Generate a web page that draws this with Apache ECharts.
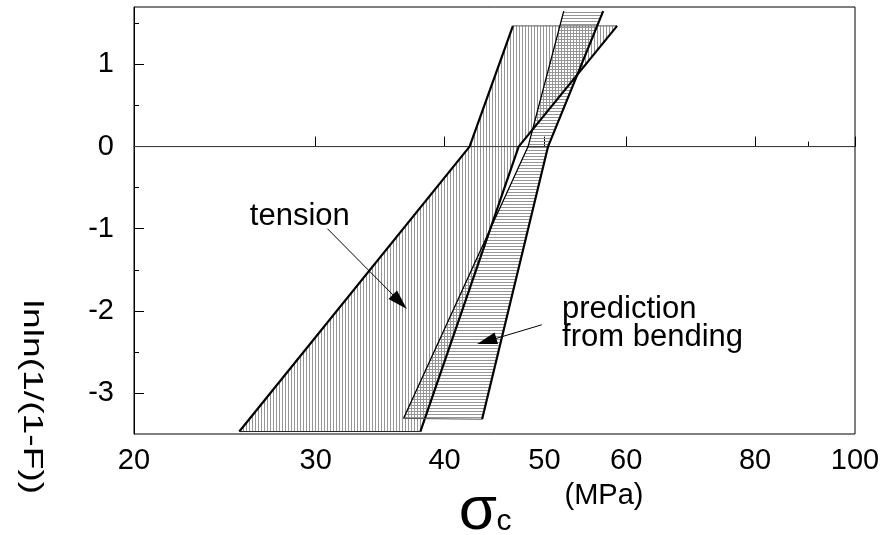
<!DOCTYPE html>
<html><head><meta charset="utf-8">
<script src="https://cdn.jsdelivr.net/npm/echarts@6/dist/echarts.min.js"></script>
<style>html,body{margin:0;padding:0;background:#fff}#c{width:884px;height:535px}</style>
</head><body><div id="c"></div>
<script>
// ---- data ----
const xTickLabels = [20, 30, 40, 50, 60, 80, 100];
const xMajorTicks = [20, 30, 40, 50, 60, 80, 100];
const xMinorTicks = [90];
const yTickLabels = [-3, -2, -1, 0, 1];
const yMinorTicks = [-2.5, -1.5, -0.5, 0.5, 1.5];

// tension band (vertical hatch) : left edge up, top, right edge down
const tensionX = [25.3, 42.3, 46.6, 58.8, 47.2, 37.9];
const tensionY = [-3.47, 0, 1.47, 1.47, 0, -3.47];
// prediction from bending band (horizontal hatch)
const bendingX = [36.5, 48.2, 52.2, 57.0, 50.4, 43.5];
const bendingY = [-3.31, 0, 1.65, 1.65, 0, -3.32];

const zeroLineX = [20, 100];
const zeroLineY = [0, 0];

const arrowTensionFrom = [30.8, -1.00];
const arrowTensionTo = [36.2, -1.89];
const arrowBendingFrom = [49.7, -2.17];
const arrowBendingTo = [43.95, -2.37];

// ---- helpers ----
function pts(xs, ys, idx) { return idx.map(i => [xs[i], ys[i]]); }
function hatch(vertical) {
  const c = document.createElement('canvas');
  c.width = 3; c.height = 3;
  const g = c.getContext('2d');
  g.fillStyle = '#959595';
  if (vertical) g.fillRect(0, 0, 1, 3); else g.fillRect(0, 0, 3, 1);
  return { type: 'pattern', image: c, repeat: 'repeat' };
}
function polySeries(xs, ys, fill) {
  return {
    type: 'custom', silent: true, clip: true, z: 1,
    data: pts(xs, ys, xs.map((_, i) => i)),
    renderItem: function (params, api) {
      if (params.dataIndex !== 0) return null;
      const p = xs.map((x, i) => api.coord([x, ys[i]]));
      return { type: 'polygon', shape: { points: p }, style: { fill: fill, stroke: null } };
    }
  };
}
function edge(data, w, color) {
  return { type: 'line', data: data, showSymbol: false, silent: true, z: 3,
    lineStyle: { width: w, color: color || '#000' }, clip: true };
}
const FONT = 'Liberation Sans, Arial, Helvetica, sans-serif';

const chart = echarts.init(document.getElementById('c'), null, { renderer: 'canvas' });
chart.setOption({
  animation: false,
  backgroundColor: '#fff',
  grid: { left: 134, right: 29, top: 7, bottom: 101, show: true, borderColor: '#000', borderWidth: 1, backgroundColor: 'transparent' },
  xAxis: [{
    type: 'log', logBase: 10, min: 20, max: 100,
    axisLine: { show: true, lineStyle: { color: '#000', width: 1 } },
    axisTick: { show: true, inside: true, length: 10, customValues: xMajorTicks, lineStyle: { color: '#000' } },
    axisLabel: { show: true, customValues: xTickLabels, margin: 12, color: '#000', fontSize: 29, fontFamily: FONT },
    splitLine: { show: false }, minorTick: { show: false }
  }, {
    type: 'log', logBase: 10, min: 20, max: 100, position: 'bottom',
    axisLine: { show: false },
    axisTick: { show: true, inside: true, length: 5, customValues: xMinorTicks, lineStyle: { color: '#000' } },
    axisLabel: { show: false }, splitLine: { show: false }
  }],
  yAxis: [{
    type: 'value', min: -3.5, max: 1.7,
    axisLine: { show: true, lineStyle: { color: '#000', width: 1 } },
    axisTick: { show: true, inside: true, length: 10, customValues: yTickLabels, lineStyle: { color: '#000' } },
    axisLabel: { show: true, customValues: yTickLabels, margin: 20, color: '#000', fontSize: 29, fontFamily: FONT },
    splitLine: { show: false }
  }, {
    type: 'value', min: -3.5, max: 1.7, position: 'left',
    axisLine: { show: false },
    axisTick: { show: true, inside: true, length: 5, customValues: yMinorTicks, lineStyle: { color: '#000' } },
    axisLabel: { show: false }, splitLine: { show: false }
  }],
  graphic: [
    { type: 'text', x: 32, y: 397, rotation: -Math.PI / 2, scaleX: 1.33,
      style: { text: 'lnln(1/(1-F))', font: '28px ' + FONT, fill: '#000', align: 'center', verticalAlign: 'middle' } },
    { type: 'text', x: 478, y: 512,
      style: { text: 'σ', font: '62px ' + FONT, fill: '#000', align: 'center', verticalAlign: 'middle' } },
    { type: 'text', x: 504, y: 522,
      style: { text: 'c', font: '30px ' + FONT, fill: '#000', align: 'center', verticalAlign: 'middle' } },
    { type: 'text', x: 604, y: 496,
      style: { text: '(MPa)', font: '29px ' + FONT, fill: '#000', align: 'center', verticalAlign: 'middle' } }
  ],
  series: [
    polySeries(tensionX, tensionY, hatch(true)),
    polySeries(bendingX, bendingY, hatch(false)),
    edge(pts(zeroLineX, zeroLineY, [0, 1]), 1, '#444'),
    edge(pts(tensionX, tensionY, [0, 1, 2]), 2.2),
    edge(pts(tensionX, tensionY, [2, 3]), 1, '#555'),
    edge(pts(tensionX, tensionY, [3, 4, 5]), 2.2),
    edge(pts(tensionX, tensionY, [5, 0]), 1, '#222'),
    edge(pts(bendingX, bendingY, [0, 1, 2]), 1.3),
    edge(pts(bendingX, bendingY, [3, 4, 5]), 2.2),
    edge(pts(bendingX, bendingY, [5, 0]), 1, '#555'),
    {
      type: 'line', data: [], silent: true,
      markLine: {
        silent: true, symbol: ['none', 'triangle'], symbolSize: [12, 20], animation: false,
        lineStyle: { color: '#000', width: 1, type: 'solid' }, label: { show: false },
        data: [
          [{ coord: arrowTensionFrom }, { coord: arrowTensionTo }],
          [{ coord: arrowBendingFrom }, { coord: arrowBendingTo }]
        ]
      },
      markPoint: {
        silent: true, symbol: 'rect', symbolSize: 1, itemStyle: { color: 'transparent' },
        label: { show: true, color: '#000', fontSize: 31, fontFamily: FONT, lineHeight: 28, align: 'left' },
        data: [
          { coord: [25.9, -0.85], value: 'tension', label: { formatter: 'tension' } },
          { coord: [52.0, -2.15], value: 'p', label: { formatter: 'prediction\nfrom bending' } }
        ]
      }
    }
  ]
});
</script></body></html>
